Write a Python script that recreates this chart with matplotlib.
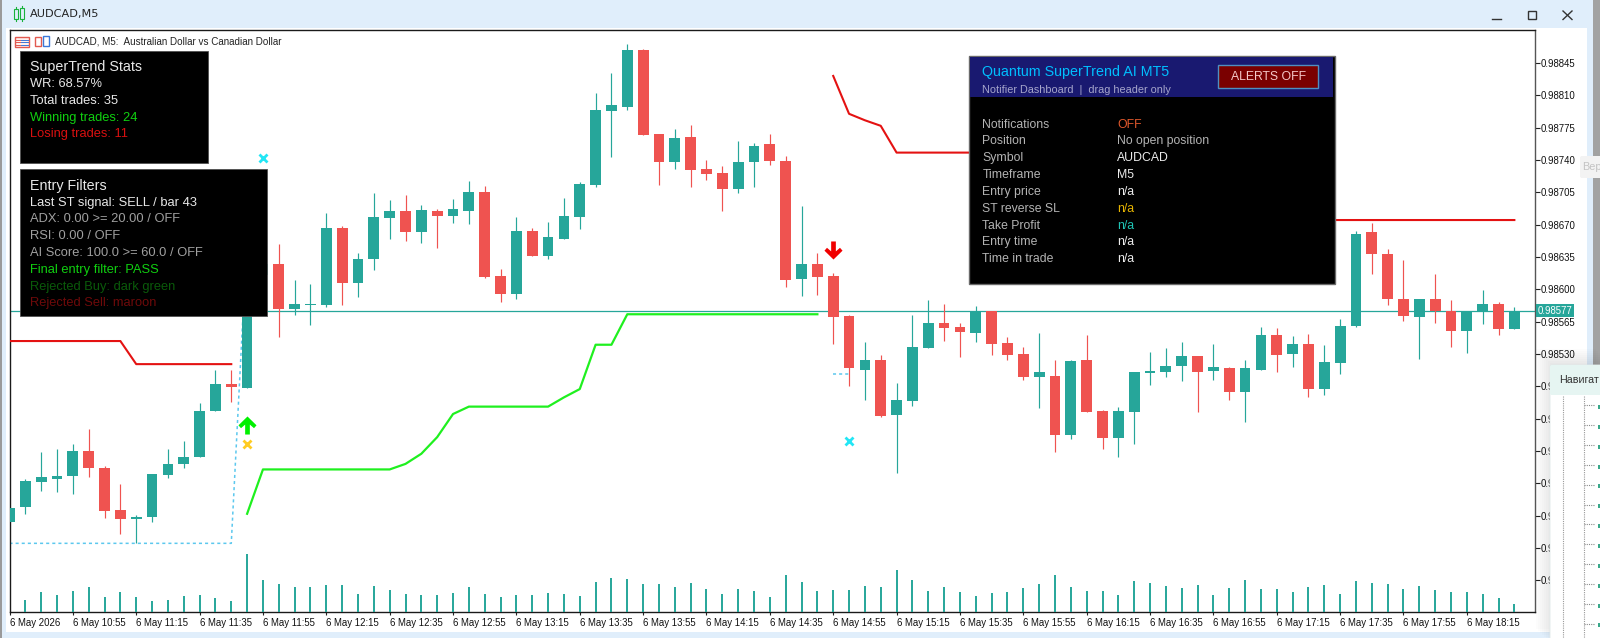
import numpy as np
import matplotlib
matplotlib.use("Agg")
import matplotlib.pyplot as plt
from matplotlib.patches import Rectangle, FancyBboxPatch
from matplotlib.path import Path

# ---------------- data ----------------
opens = [0.98348, 0.98364, 0.98391, 0.98395, 0.98398, 0.98425, 0.98407, 0.98361, 0.98351, 0.98353, 0.98399, 0.98411,
         0.98418, 0.98468, 0.98497, 0.98493, 0.98616, 0.98627, 0.98579, 0.98583, 0.98583, 0.98666, 0.98607, 0.98633,
         0.98677, 0.98685, 0.98662, 0.98685, 0.98679, 0.98685, 0.98705, 0.98614, 0.98595, 0.98663, 0.98636, 0.98655,
         0.98678, 0.98713, 0.98793, 0.98797, 0.98859, 0.98768, 0.98738, 0.98765, 0.98730, 0.98726, 0.98709, 0.98738,
         0.98757, 0.98739, 0.98611, 0.98627, 0.98614, 0.98571, 0.98513, 0.98524, 0.98464, 0.98479, 0.98537, 0.98564,
         0.98559, 0.98553, 0.98577, 0.98542, 0.98530, 0.98505, 0.98506, 0.98442, 0.98523, 0.98468, 0.98439, 0.98467,
         0.98509, 0.98511, 0.98517, 0.98528, 0.98512, 0.98515, 0.98489, 0.98513, 0.98551, 0.98530, 0.98541, 0.98492,
         0.98520, 0.98560, 0.98662, 0.98638, 0.98590, 0.98570, 0.98589, 0.98577, 0.98555, 0.98577, 0.98584, 0.98557]
highs = [0.98363, 0.98395, 0.98424, 0.98427, 0.98432, 0.98449, 0.98409, 0.98389, 0.98356, 0.98400, 0.98427, 0.98436,
         0.98477, 0.98513, 0.98513, 0.98618, 0.98629, 0.98649, 0.98610, 0.98606, 0.98683, 0.98668, 0.98639, 0.98704,
         0.98697, 0.98702, 0.98691, 0.98687, 0.98698, 0.98717, 0.98712, 0.98622, 0.98678, 0.98666, 0.98673, 0.98699,
         0.98716, 0.98812, 0.98834, 0.98866, 0.98860, 0.98768, 0.98774, 0.98778, 0.98740, 0.98733, 0.98761, 0.98758,
         0.98768, 0.98744, 0.98690, 0.98639, 0.98618, 0.98572, 0.98543, 0.98529, 0.98499, 0.98572, 0.98588, 0.98584,
         0.98564, 0.98582, 0.98577, 0.98548, 0.98538, 0.98553, 0.98524, 0.98524, 0.98551, 0.98469, 0.98473, 0.98511,
         0.98532, 0.98537, 0.98543, 0.98528, 0.98541, 0.98516, 0.98524, 0.98559, 0.98558, 0.98549, 0.98552, 0.98540,
         0.98568, 0.98663, 0.98672, 0.98644, 0.98632, 0.98589, 0.98617, 0.98588, 0.98577, 0.98599, 0.98586, 0.98581]
lows = [0.98348, 0.98357, 0.98382, 0.98381, 0.98378, 0.98397, 0.98352, 0.98335, 0.98325, 0.98348, 0.98396, 0.98407,
        0.98418, 0.98468, 0.98478, 0.98493, 0.98610, 0.98548, 0.98572, 0.98561, 0.98581, 0.98583, 0.98592, 0.98621,
        0.98654, 0.98652, 0.98650, 0.98645, 0.98672, 0.98671, 0.98612, 0.98586, 0.98590, 0.98636, 0.98633, 0.98654,
        0.98665, 0.98711, 0.98743, 0.98794, 0.98767, 0.98713, 0.98730, 0.98711, 0.98718, 0.98685, 0.98704, 0.98711,
        0.98735, 0.98603, 0.98593, 0.98594, 0.98541, 0.98495, 0.98480, 0.98462, 0.98401, 0.98474, 0.98537, 0.98544,
        0.98527, 0.98543, 0.98529, 0.98523, 0.98502, 0.98472, 0.98424, 0.98438, 0.98467, 0.98427, 0.98418, 0.98432,
        0.98496, 0.98505, 0.98501, 0.98467, 0.98502, 0.98480, 0.98456, 0.98513, 0.98510, 0.98516, 0.98483, 0.98486,
        0.98508, 0.98559, 0.98617, 0.98583, 0.98566, 0.98525, 0.98564, 0.98538, 0.98531, 0.98562, 0.98551, 0.98557]
closes = [0.98363, 0.98392, 0.98397, 0.98398, 0.98425, 0.98407, 0.98360, 0.98351, 0.98353, 0.98400, 0.98411, 0.98419,
          0.98468, 0.98498, 0.98494, 0.98616, 0.98627, 0.98579, 0.98584, 0.98584, 0.98666, 0.98607, 0.98633, 0.98678,
          0.98685, 0.98662, 0.98686, 0.98679, 0.98687, 0.98705, 0.98613, 0.98595, 0.98663, 0.98636, 0.98657, 0.98679,
          0.98714, 0.98794, 0.98800, 0.98859, 0.98767, 0.98738, 0.98764, 0.98729, 0.98725, 0.98709, 0.98738, 0.98755,
          0.98739, 0.98610, 0.98627, 0.98613, 0.98570, 0.98515, 0.98524, 0.98463, 0.98480, 0.98538, 0.98564, 0.98558,
          0.98554, 0.98577, 0.98541, 0.98529, 0.98505, 0.98510, 0.98442, 0.98522, 0.98467, 0.98439, 0.98468, 0.98510,
          0.98512, 0.98517, 0.98528, 0.98511, 0.98516, 0.98489, 0.98515, 0.98551, 0.98529, 0.98541, 0.98492, 0.98521,
          0.98560, 0.98660, 0.98638, 0.98590, 0.98571, 0.98589, 0.98577, 0.98555, 0.98577, 0.98584, 0.98557, 0.98577]
# first bar sits under the left axis line, its volume is not visible
volumes = [12, 20, 17, 21, 25, 15, 20, 15, 11, 12, 16, 17, 14, 11, 58, 32, 28, 25, 25, 27, 27, 18, 26,
           22, 18, 17, 17, 19, 25, 18, 15, 17, 17, 19, 18, 16, 30, 34, 33, 28, 28, 25, 29, 23, 18, 23, 21,
           15, 37, 30, 21, 22, 22, 26, 25, 42, 32, 21, 25, 20, 16, 19, 20, 24, 28, 37, 25, 21, 21, 17, 31,
           29, 26, 24, 27, 17, 24, 32, 23, 23, 20, 25, 27, 18, 31, 29, 28, 23, 26, 22, 20, 20, 18, 14, 8]

# SuperTrend lines, bar index and level
red1_bars = list(range(0, 15))
red1_vals = [0.98544] * 8 + [0.98519] * 7
green_bars = list(range(15, 52))
green_vals = [0.98357] + [0.98405] * 9 + [0.98411, 0.98422, 0.98440, 0.98465] + [0.98473] * 6 + \
             [0.98483, 0.98492, 0.98540, 0.98540] + [0.98573] * 13
red2_bars = list(range(52, 96))
red2_vals = [0.98831, 0.98790, 0.98783, 0.98777] + [0.98748] * 15 + [0.98675] * 25
stop1_bars = list(range(0, 16))
stop1_vals = [0.98325] * 15 + [0.98659]
stop2_bars = [52, 53]
stop2_vals = [0.98508, 0.98508]

cross_bars = [16, 15, 53]
cross_vals = [0.98742, 0.98432, 0.98436]
cross_cols = ['#22e6f5', '#ffcc22', '#22e6f5']
buy_bar, buy_val = 15, 0.98453
sell_bar, sell_val = 52, 0.98643

last_price = 0.98577
price_ticks = [0.98845, 0.98810, 0.98775, 0.98740, 0.98705, 0.98670, 0.98635, 0.98600, 0.98565, 0.98530,
               0.98495, 0.98460, 0.98425, 0.98390, 0.98355, 0.98320, 0.98285]
time_labels = ['6 May 2026', '6 May 10:55', '6 May 11:15', '6 May 11:35', '6 May 11:55', '6 May 12:15',
               '6 May 12:35', '6 May 12:55', '6 May 13:15', '6 May 13:35', '6 May 13:55', '6 May 14:15',
               '6 May 14:35', '6 May 14:55', '6 May 15:15', '6 May 15:35', '6 May 15:55', '6 May 16:15',
               '6 May 16:35', '6 May 16:55', '6 May 17:15', '6 May 17:35', '6 May 17:55', '6 May 18:15']

stats_lines = [('WR: 68.57%', '#e8e8e8'), ('Total trades: 35', '#e8e8e8'),
               ('Winning trades: 24', '#10d010'), ('Losing trades: 11', '#d81010')]
filter_lines = [('Last ST signal: SELL / bar 43', '#e8e8e8'), ('ADX: 0.00 >= 20.00 / OFF', '#a0a0a0'),
                ('RSI: 0.00 / OFF', '#a0a0a0'), ('AI Score: 100.0 >= 60.0 / OFF', '#a0a0a0'),
                ('Final entry filter: PASS', '#10d010'), ('Rejected Buy: dark green', '#0a5a0a'),
                ('Rejected Sell: maroon', '#6e0a0a')]
dash_rows = [('Notifications', 'OFF', '#e0582c'), ('Position', 'No open position', '#b4b4b4'),
             ('Symbol', 'AUDCAD', '#ececec'), ('Timeframe', 'M5', '#ececec'), ('Entry price', 'n/a', '#ececec'),
             ('ST reverse SL', 'n/a', '#e6b400'), ('Take Profit', 'n/a', '#1fc4b4'),
             ('Entry time', 'n/a', '#ececec'), ('Time in trade', 'n/a', '#ececec')]

# ---------------- figure + chart ----------------
W, H = 1600, 638
UP, DOWN = '#26a69a', '#ef5350'
SANS = 'Liberation Sans'
plt.rcParams['font.family'] = [SANS, 'DejaVu Sans']

fig = plt.figure(figsize=(16, 6.38), dpi=100, facecolor='#e0eefb')

# window background in pixel coords
bg = fig.add_axes([0, 0, 1, 1], zorder=0)
bg.set_xlim(0, W)
bg.set_ylim(H, 0)
bg.axis('off')
bg.add_patch(Rectangle((6, 28), 1581, 604, color='white', lw=0))
bg.add_patch(Rectangle((0, 0), 2, H, color='#9a9a9a', lw=0))
bg.add_patch(Rectangle((1593, 0), 7, H, color='#a2a2a2', lw=0))

left, right, top, bottom = 9.5, 1535, 30, 612.3
pos = [left / W, 1 - bottom / H, (right - left) / W, (bottom - top) / H]
ax = fig.add_axes(pos, zorder=1, facecolor='white')

x = np.arange(len(opens))
o, hi, lo, c = map(np.array, (opens, highs, lows, closes))
up = c >= o

# candles
ax.axhline(last_price, color=UP, lw=0.9, zorder=1)
ax.vlines(x[up], lo[up], hi[up], color=UP, lw=0.85, zorder=2)
ax.vlines(x[~up], lo[~up], hi[~up], color=DOWN, lw=0.85, zorder=2)
body_w = 0.68
ax.bar(x[up], (c - o)[up], bottom=o[up], width=body_w, color=UP, lw=0, zorder=3)
ax.bar(x[~up], (c - o)[~up], bottom=o[~up], width=body_w, color=DOWN, lw=0, zorder=3)

# supertrend
ax.plot(red1_bars, red1_vals, color='#e41212', lw=1.5, zorder=4)
ax.plot(red2_bars, red2_vals, color='#e41212', lw=1.5, zorder=4)
ax.plot(green_bars, green_vals, color='#1ff01f', lw=1.6, zorder=4)
ax.plot(stop1_bars, stop1_vals, color='#5cc8ee', lw=1.1, ls=(0, (2, 2)), zorder=2)
ax.plot(stop2_bars, stop2_vals, color='#5cc8ee', lw=1.1, ls=(0, (2, 2)), zorder=2)

# markers
for b, v, col in zip(cross_bars, cross_vals, cross_cols):
    ax.plot(b, v, marker='x', ms=6, mew=2, color=col, zorder=5)
arrow_up = Path([(-0.26, -1), (0.26, -1), (0.26, 0.1), (0.72, -0.3), (1, 0.02), (0, 1), (-1, 0.02), (-0.72, -0.3),
                 (-0.26, 0.1), (-0.26, -1)], closed=True)
arrow_down = Path(np.array(arrow_up.vertices) * [1, -1], closed=True)
ax.plot(buy_bar, buy_val, marker=arrow_up, ms=13, color='#00f000', mew=0, zorder=5)
ax.plot(sell_bar, sell_val, marker=arrow_down, ms=13, color='#f00000', mew=0, zorder=5)

# volumes on own scale, same box
vol_ax = fig.add_axes(pos, zorder=1.5, sharex=ax)
vol_ax.patch.set_alpha(0)
vol_ax.axis('off')
vol_ax.vlines(x[1:], 0, volumes, color=UP, lw=1.4)
vol_ax.set_ylim(0, bottom - top)

# axes look
ax.set_xlim((left - 8.6) / 15.85, (right - 8.6) / 15.85)
px_price = 0.00035 / 32.33
ax.set_ylim(0.98845 - (bottom - 63) * px_price, 0.98845 + (63 - top) * px_price)
ax.yaxis.tick_right()
ax.set_yticks(price_ticks)
ax.set_yticklabels([f'{p:.5f}' for p in price_ticks])
ax.set_xticks(np.arange(0, 4 * len(time_labels), 4))
ax.set_xticklabels(time_labels, ha='left')
ax.tick_params(axis='y', length=3.6, width=0.8, pad=0.3, labelsize=6.9, color='#222222', labelcolor='#111111')
ax.tick_params(axis='x', length=2.4, width=0.8, pad=1.8, labelsize=6.9, color='#222222', labelcolor='#111111')
for s in ax.spines.values():
    s.set_linewidth(1.0)
    s.set_color('#1a1a1a')
ax.spines['right'].set_color('#555555')
ax.text(1.0018, last_price, f'{last_price:.5f}', transform=ax.get_yaxis_transform(), color='white', fontsize=6.9,
        va='center', ha='left', zorder=6, clip_on=False,
        bbox=dict(boxstyle='square,pad=0.2', fc=UP, ec='none'))

# ---------------- everything on top, pixel coords ----------------
ui = fig.add_axes([0, 0, 1, 1], zorder=5)
ui.set_xlim(0, W)
ui.set_ylim(H, 0)
ui.axis('off')
ui.patch.set_alpha(0)


def label(px, py, s, col, size=9.3, **kw):
    ui.text(px, py, s, color=col, fontsize=size, family=SANS, va='center', ha=kw.pop('ha', 'left'), **kw)


# title bar
for rx, ry, rh in [(14, 9, 10), (20, 8, 11)]:
    ui.add_patch(Rectangle((rx, ry), 4, rh, fc='none', ec='#18b23c', lw=0.8))
    ui.plot([rx + 2, rx + 2], [ry - 2, ry], color='#18b23c', lw=0.8)
    ui.plot([rx + 2, rx + 2], [ry + rh, ry + rh + 2], color='#18b23c', lw=0.8)
ui.text(30, 14, 'AUDCAD,M5', color='#222222', fontsize=8.1, family='DejaVu Sans', va='center')
ui.plot([1492, 1501], [19, 19], color='#333333', lw=1)
ui.add_patch(Rectangle((1528, 11), 8, 8, fc='none', ec='#333333', lw=1))
ui.plot([1563, 1572], [11, 19.5], color='#333333', lw=1)
ui.plot([1563, 1572], [19.5, 11], color='#333333', lw=1)

# chart heading + icons
ui.add_patch(Rectangle((14.5, 36.5), 14, 10, fc='#fff0ee', ec='#e25a50', lw=1))
for ly in (39.5, 42, 44.5):
    ui.plot([21, 27.5], [ly, ly], color='#3a78d8', lw=0.7)
    ui.plot([16, 20], [ly, ly], color='#e25a50', lw=0.7)
ui.add_patch(Rectangle((35, 37), 6, 9, fc='white', ec='#e25a50', lw=1))
ui.add_patch(Rectangle((43, 36), 6, 10, fc='white', ec='#3a78d8', lw=1))
ui.text(55, 41.3, 'AUDCAD, M5:  Australian Dollar vs Canadian Dollar', color='#222222', fontsize=7.1,
        family=SANS, va='center')

# stats panel
ui.add_patch(Rectangle((20, 50.7), 187.7, 112.6, fc='black', ec='#505050', lw=0.6))
label(30, 67, 'SuperTrend Stats', '#e8e8e8', size=10.3)
for (s, col), py in zip(stats_lines, [84, 100.7, 117.7, 134.3]):
    label(30, py, s, col)

# filter panel
ui.add_patch(Rectangle((20, 169.3), 247, 146.4, fc='black', ec='#505050', lw=0.6))
label(30, 186, 'Entry Filters', '#e8e8e8', size=10.3)
for (s, col), py in zip(filter_lines, [202.7, 219.3, 236, 253, 269.7, 286.7, 303.3]):
    label(30, py, s, col)

# dashboard
ui.add_patch(Rectangle((968.5, 56), 366, 228.3, fc='black', ec='#6a6a6a', lw=1))
ui.add_patch(Rectangle((969.5, 57), 363, 40, fc='#191970', lw=0))
label(982.3, 72.3, 'Quantum SuperTrend AI MT5', '#00bfff', size=10.3)
label(982.3, 89.7, 'Notifier Dashboard  |  drag header only', '#a6a6cc', size=7.8)
ui.add_patch(Rectangle((1218.3, 65), 100, 22.7, fc='#7a0000', ec='#4f8fc0', lw=1))
label(1268.3, 76.5, 'ALERTS OFF', '#f5c8c8', size=8.8, ha='center')
for (name, val, col), py in zip(dash_rows, [124.7, 141.3, 158.3, 175, 192, 209, 225.7, 242.3, 259.3]):
    label(982.3, py, name, '#b4b4b4', size=8.8)
    label(1117, py, val, col, size=8.8)

# tooltip + navigator window poking in from the right
ui.add_patch(FancyBboxPatch((1582, 158), 30, 18, boxstyle='round,pad=2', fc='#f3f3f3', ec='none'))
label(1582, 167, 'Вер', '#c4c4c4', size=7.8)
for i in range(8):
    ui.add_patch(Rectangle((1550 - 2 * i, 363 - 2 * i), 60, 280, fc='#000000', alpha=0.012, lw=0))
ui.add_patch(FancyBboxPatch((1552, 367), 60, 290, boxstyle='round,pad=2', fc='white', ec='#dfe8e8', lw=0.6))
ui.add_patch(FancyBboxPatch((1552, 367), 60, 26, boxstyle='round,pad=2', fc='#e6f5f2', ec='none'))
label(1559, 380, 'Навигат', '#333333', size=7.7)
ui.plot([1562.7, 1562.7], [396, H], color='#9a9a9a', lw=0.8, ls=(0, (1, 1)))
ui.plot([1583.5, 1583.5], [396, H], color='#9a9a9a', lw=0.8, ls=(0, (1, 1)))
for k in range(12):
    ui.plot([1584, 1594], [405.3 + 19.85 * k] * 2, color='#8a8a8a', lw=0.8, ls=(0, (1, 1)))
    ui.add_patch(Rectangle((1598, 405 + 19.85 * k), 2, 4, fc='#3aa88a', lw=0))

fig.savefig('out.png', dpi=100, facecolor=fig.get_facecolor())
plt.close(fig)
